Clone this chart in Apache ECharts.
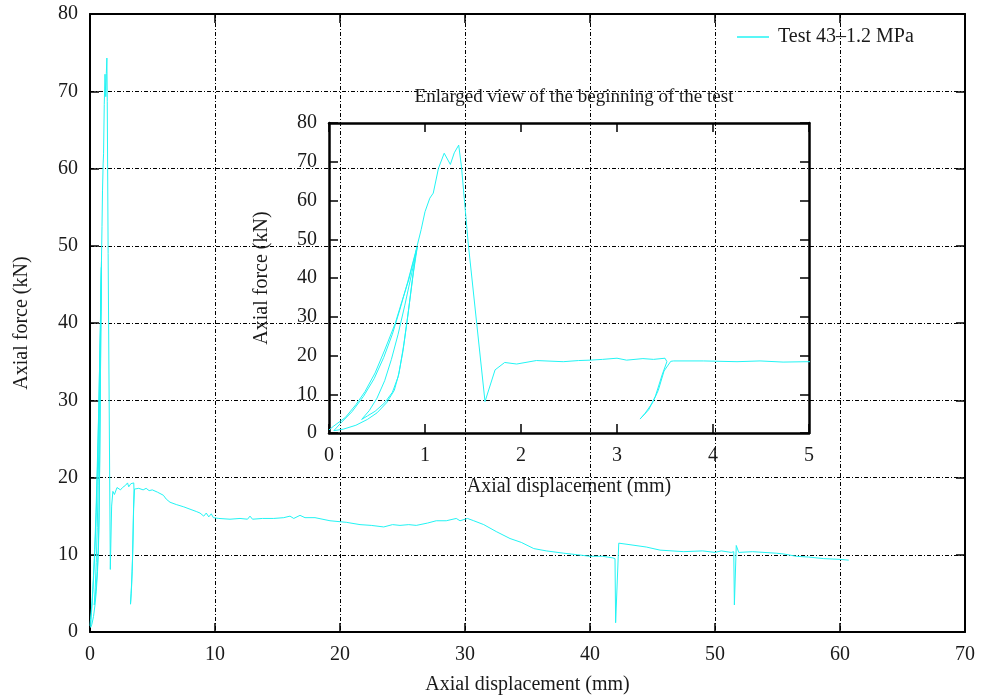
<!DOCTYPE html>
<html>
<head>
<meta charset="utf-8">
<script src="https://cdn.jsdelivr.net/npm/echarts@6/dist/echarts.min.js"></script>
<style>
html,body{margin:0;padding:0;background:#fff;}
#chart{width:981px;height:700px;}
</style>
</head>
<body>
<div id="chart"></div>
<script>
// ---- Data (axial displacement in mm, axial force in kN) ----
const seriesName = 'Test 43–1.2 MPa';
// beginning of the test: loading / unloading cycles, peak, drops
const dispStart = [0.0, 0.05, 0.17, 0.28, 0.375, 0.48, 0.58, 0.69, 0.76, 0.83, 0.91,
  0.87, 0.82, 0.77, 0.72, 0.66, 0.58, 0.48, 0.40, 0.34,
  0.42, 0.50, 0.58, 0.65, 0.72, 0.79, 0.86, 0.92,
  0.88, 0.83, 0.78, 0.73, 0.68, 0.60, 0.50, 0.40, 0.28, 0.15, 0.05,
  0.12, 0.24, 0.36, 0.47, 0.57, 0.66, 0.74, 0.82, 0.90, 0.96, 1.0, 1.05, 1.086, 1.14, 1.20, 1.264, 1.305, 1.351, 1.38, 1.45, 1.625,
  1.73, 1.83, 1.955, 2.16, 2.44, 2.6, 2.72, 2.85, 3.0, 3.1, 3.27, 3.38, 3.5, 3.52,
  3.47, 3.40, 3.33, 3.24, 3.29, 3.37, 3.43, 3.49, 3.56, 3.59, 3.9, 4.25, 4.49, 4.73, 4.98];
const forceStart = [0.8, 1.8, 4.0, 7.3, 10.7, 15.5, 21.4, 28.3, 34.0, 39.5, 47.2,
  40.0, 30.0, 21.0, 14.5, 10.5, 7.8, 5.6, 4.4, 3.5,
  5.8, 9.0, 13.5, 19.0, 25.5, 33.0, 41.0, 48.0,
  41.5, 32.0, 23.0, 15.5, 11.0, 7.8, 5.2, 3.5, 2.0, 1.0, 0.6,
  2.5, 5.5, 9.5, 14.0, 19.5, 25.5, 32.0, 39.0, 46.5, 52.5, 57.1, 60.6, 61.9, 68.3, 72.2, 69.3, 72.3, 74.3, 68.7, 49.0, 8.1,
  16.3, 18.2, 17.8, 18.7, 18.4, 18.7, 18.8, 19.0, 19.3, 18.8, 19.2, 19.0, 19.3, 18.4,
  15.0, 9.5, 6.0, 3.6, 5.0, 7.8, 11.0, 16.0, 18.5, 18.6, 18.6, 18.4, 18.6, 18.3, 18.4];
// rest of the test
const dispTail = [5.07, 5.4, 5.87, 6.1, 6.4, 6.9, 7.5, 8.0, 8.5, 8.8, 9.1, 9.3, 9.5, 9.7, 9.87, 10.3, 11.2, 12.0, 12.6, 12.8, 13.0, 13.8, 14.7, 15.5, 16.0, 16.3, 16.8, 17.2, 18.0, 19.2, 20.5, 21.6, 22.5, 23.5, 24.2, 24.8, 25.5, 26.1, 27.0, 27.7, 28.5, 29.3, 29.6, 30.2, 30.7, 31.5, 32.5, 33.6, 34.5, 35.5, 36.5, 37.9, 39.0, 40.0, 41.0, 41.8, 42.0, 42.05, 42.3, 43.2, 44.5, 45.6, 47.5, 49.0, 50.0, 50.5, 51.3, 51.5, 51.55, 51.7, 51.9, 53.0, 54.9, 55.5, 56.5, 57.5, 58.7, 60.0, 60.7];
const forceTail = [18.4, 18.1, 17.7, 17.2, 16.8, 16.5, 16.2, 15.9, 15.6, 15.4, 15.0, 15.4, 14.9, 15.3, 14.8, 14.7, 14.6, 14.7, 14.6, 15.0, 14.6, 14.7, 14.7, 14.8, 15.0, 14.7, 15.1, 14.8, 14.8, 14.4, 14.2, 13.9, 13.8, 13.6, 13.9, 13.8, 13.9, 13.8, 14.1, 14.4, 14.4, 14.7, 14.4, 14.7, 14.4, 13.9, 13.0, 12.1, 11.6, 10.8, 10.5, 10.2, 10.0, 9.8, 9.8, 9.6, 9.5, 1.2, 11.5, 11.3, 11.0, 10.6, 10.4, 10.5, 10.3, 10.5, 10.3, 10.4, 3.5, 11.2, 10.3, 10.4, 10.2, 10.1, 9.8, 9.7, 9.5, 9.4, 9.3];
const mainXTicks = {min: 0, max: 70, interval: 10};
const mainYTicks = {min: 0, max: 80, interval: 10};
const insetXTicks = {min: 0, max: 5, interval: 1};
const insetYTicks = {min: 0, max: 80, interval: 10};
const labels = {
  x: 'Axial displacement (mm)',
  y: 'Axial force (kN)',
  inset: 'Enlarged view of the beginning of the test'
};

// ---- Build ----
const disp = dispStart.concat(dispTail);
const force = forceStart.concat(forceTail);
const points = disp.map((d, i) => [d, force[i]]);

const FONT = 'Liberation Serif';
const TXT = '#1a1a1a';
const lineColor = '#22f4f4';
const gridLine = {show: true, lineStyle: {color: '#000', width: 1, type: [4, 2, 1, 2]}};

function xAx(grid, t, pos, withLabels, name, nameGap, split, lw) {
  return {
    type: 'value', gridIndex: grid, position: pos, min: t.min, max: t.max, interval: t.interval,
    axisLine: {show: true, onZero: false, lineStyle: {color: '#000', width: lw}},
    axisTick: {show: true, inside: true, length: 9, lineStyle: {color: '#000', width: 1.5}},
    axisLabel: {show: withLabels, margin: 13, fontFamily: FONT, fontSize: 20, color: TXT},
    splitLine: split ? gridLine : {show: false},
    name: name || '', nameLocation: 'middle', nameGap: nameGap || 0,
    nameTextStyle: {fontFamily: FONT, fontSize: 20, color: TXT}
  };
}
function yAx(grid, t, pos, withLabels, name, nameGap, split, lw) {
  return {
    type: 'value', gridIndex: grid, position: pos, min: t.min, max: t.max, interval: t.interval,
    axisLine: {show: true, onZero: false, lineStyle: {color: '#000', width: lw}},
    axisTick: {show: true, inside: true, length: 9, lineStyle: {color: '#000', width: 1.5}},
    axisLabel: {show: withLabels, margin: 12, fontFamily: FONT, fontSize: 20, color: TXT},
    splitLine: split ? gridLine : {show: false},
    name: name || '', nameLocation: 'middle', nameGap: nameGap || 0, nameRotate: 90,
    nameTextStyle: {fontFamily: FONT, fontSize: 20, color: TXT}
  };
}

const chart = echarts.init(document.getElementById('chart'), null, {renderer: 'canvas'});
chart.setOption({
  animation: false,
  backgroundColor: '#fff',
  title: {
    text: labels.inset, left: 569, top: 83, textAlign: 'center',
    textStyle: {fontFamily: FONT, fontSize: 19, fontWeight: 'normal', color: TXT}
  },
  legend: {
    data: [{name: seriesName, icon: 'rect'}],
    left: 732, top: 22, itemWidth: 32, itemHeight: 1.5, itemGap: 12,
    textStyle: {fontFamily: FONT, fontSize: 20, color: TXT, padding: [0, 0, 0, 4]}
  },
  grid: [
    {left: 90, top: 14, width: 875, height: 620},
    {left: 329, top: 123, width: 480, height: 310}
  ],
  xAxis: [
    xAx(0, mainXTicks, 'bottom', true, labels.x, 43, true, 2),
    xAx(0, mainXTicks, 'top', false, '', 0, false, 2),
    xAx(1, insetXTicks, 'bottom', true, labels.x, 44, false, 2.5),
    xAx(1, insetXTicks, 'top', false, '', 0, false, 2.5)
  ],
  yAxis: [
    yAx(0, mainYTicks, 'left', true, labels.y, 58, true, 2),
    yAx(0, mainYTicks, 'right', false, '', 0, false, 2),
    yAx(1, insetYTicks, 'left', true, labels.y, 57, false, 2.5),
    yAx(1, insetYTicks, 'right', false, '', 0, false, 2.5)
  ],
  series: [
    {name: seriesName, type: 'line', xAxisIndex: 0, yAxisIndex: 0, data: points,
     showSymbol: false, symbol: 'none', clip: true, color: lineColor,
     lineStyle: {color: lineColor, width: 1}},
    {name: seriesName, type: 'line', xAxisIndex: 2, yAxisIndex: 2, data: points,
     showSymbol: false, symbol: 'none', clip: true, color: lineColor,
     lineStyle: {color: lineColor, width: 1}}
  ]
});
</script>
</body>
</html>
